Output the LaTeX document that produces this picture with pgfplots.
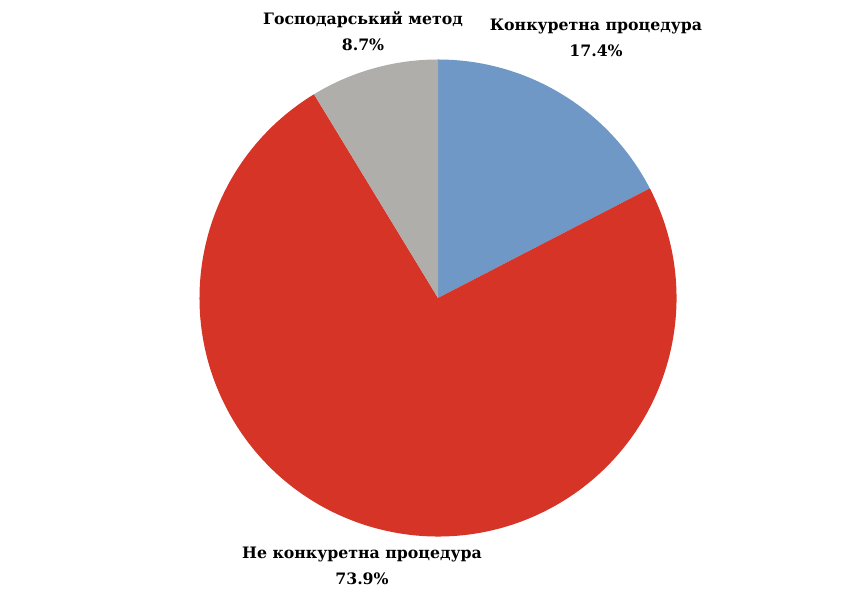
\documentclass[border=0pt]{standalone}
\usepackage{pgfplots}
\pgfplotsset{compat=1.18}
\usepackage{pgfplotstable}
\usepackage{fontspec}
\setmainfont{DejaVu Serif}

\definecolor{sliceblue}{RGB}{111,152,199}
\definecolor{slicered}{RGB}{214,52,39}
\definecolor{slicegray}{RGB}{175,174,170}

% share of each procedure, clockwise from 12 o'clock; lx, ly = label centre
\pgfplotstableread[col sep=comma]{
name,value,color,lx,ly
Конкуретна процедура,17.4,sliceblue,596,578
Не конкуретна процедура,73.9,slicered,362,50
Господарський метод,8.7,slicegray,363,585
}\piedata

\begin{document}
\begin{tikzpicture}
\useasboundingbox (0,0) rectangle (866bp,616bp);
\begin{axis}[
    at={(0,0)}, anchor=south west,
    scale only axis,
    width=866bp, height=616bp,
    xmin=0, xmax=866, ymin=0, ymax=616,
    hide axis, clip=false
]
\def\angA{90}
\pgfplotsforeachungrouped \i in {0,1,2}{
  \pgfplotstablegetelem{\i}{value}\of\piedata \let\val\pgfplotsretval
  \pgfplotstablegetelem{\i}{color}\of\piedata \let\col\pgfplotsretval
  \pgfplotstablegetelem{\i}{name}\of\piedata \let\nm\pgfplotsretval
  \pgfplotstablegetelem{\i}{lx}\of\piedata \let\lx\pgfplotsretval
  \pgfplotstablegetelem{\i}{ly}\of\piedata \let\ly\pgfplotsretval
  \pgfmathsetmacro{\angB}{\angA-3.6*\val}
  \edef\cmd{%
    \noexpand\fill[\col] (axis cs:438,318) -- ++(\angA:238.5bp)
      arc[start angle=\angA, end angle=\angB, radius=238.5bp] -- cycle;
    \noexpand\node[align=center, font=\noexpand\bfseries\noexpand\fontsize{15.8}{25.5}\noexpand\selectfont]
      at (axis cs:\lx,\ly) {\nm\noexpand\\\val\noexpand\%};
  }
  \cmd
  \let\angA\angB
}
\end{axis}
\end{tikzpicture}
\end{document}
